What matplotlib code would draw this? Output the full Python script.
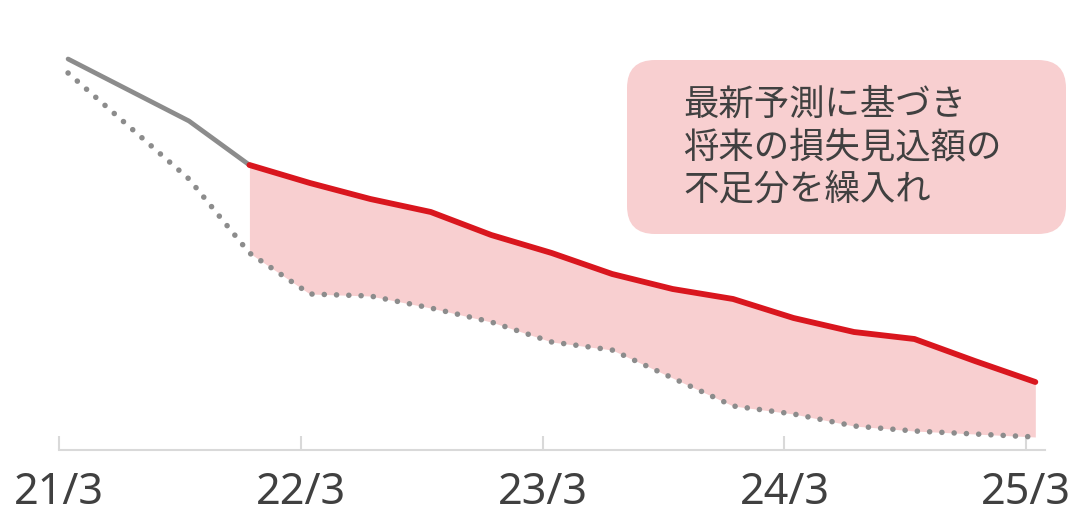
import numpy as np
import matplotlib
matplotlib.use('Agg')
from matplotlib import pyplot as plt
from matplotlib.patches import FancyBboxPatch
from matplotlib.transforms import IdentityTransform

plt.rcParams['font.family'] = ['Noto Sans CJK JP', 'DejaVu Sans']

# quarterly points, 21/3 .. 25/3
quarters = np.arange(17)
tick_labels = ['21/3', '22/3', '23/3', '24/3', '25/3']
# actual book value (grey solid) up to 21/12, then red (with top-up)
actual = [39.1, 36.0, 32.9, 28.5]
topped = [28.5, 26.7, 25.1, 23.8, 21.5, 19.7, 17.6, 16.1, 15.1, 13.2, 11.8, 11.1, 8.9, 6.8]
# earlier projection (dotted)
projected = [37.7, 32.4, 27.1, 19.7, 15.6, 15.4, 14.2, 12.8, 10.8, 10.0, 7.2, 4.4,
             3.6, 2.4, 1.9, 1.6, 1.3]
note = '最新予測に基づき\n将来の損失見込額の\n不足分を繰入れ'

grey = '#8c8c8c'; red = '#d9161e'; pink = '#f8cfd0'; axc = '#d9d9d9'

fig = plt.figure(figsize=(10.87, 5.17), dpi=100)
ax = fig.add_axes([59/1087, 67/517, 986/1087, 410/517])

xa = quarters[:len(actual)]
xr = quarters[len(actual)-1:]
ax.fill_between(xr, np.array(projected)[len(actual)-1:], topped, color=pink, lw=0, zorder=1)
ax.plot(quarters, projected, color=grey, lw=4.0, linestyle=(0, (0.01, 2.2)),
        dash_capstyle='round', zorder=2)
ax.plot(xa, actual, color=grey, lw=3.4, solid_capstyle='round', solid_joinstyle='round', zorder=3)
ax.plot(xr, topped, color=red, lw=4.2, solid_capstyle='round', solid_joinstyle='round', zorder=4)

ax.set_xlim(-0.15, 16.16)
ax.set_ylim(0, 41)
ax.set_xticks(np.arange(0, 17, 4) - 0.15)
ax.set_xticklabels(tick_labels, family='Noto Sans', fontsize=31, color='#404040')
ax.tick_params(axis='x', direction='in', length=10, width=1.5, color=axc, pad=15)
ax.set_yticks([])
for s in ['top', 'left', 'right']:
    ax.spines[s].set_visible(False)
ax.spines['bottom'].set_color(axc); ax.spines['bottom'].set_linewidth(1.5)

# note box (pixel coords)
box = FancyBboxPatch((627, 517-234), 439, 174, boxstyle='round,pad=0,rounding_size=28',
                     transform=IdentityTransform(), fc=pink, ec='none', zorder=0)
fig.patches.append(box)
fig.text(683/1087, 1-147/517, note, ha='left', va='center', fontsize=25.5,
         color='#404040', linespacing=1.22)

plt.savefig('out.png', dpi=100)
